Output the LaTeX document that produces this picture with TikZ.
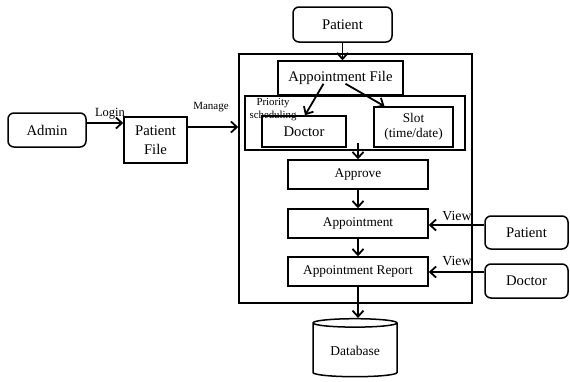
\documentclass[tikz,border=0pt]{standalone}
\usepackage{fontspec}
\setmainfont{Liberation Serif}
\usetikzlibrary{arrows.meta,shapes.geometric}

\begin{document}
\begin{tikzpicture}[x=1pt,y=-1pt,>={Straight Barb[length=6pt,width=11pt]},
    box/.style={draw,line width=1.5pt,inner sep=1pt,align=center,
      font=\fontsize{13.3}{15}\selectfont},
    bigbox/.style={box,font=\fontsize{14.7}{19}\selectfont},
    actor/.style={bigbox,rounded corners=6pt},
    flow/.style={->,line width=1.8pt},
    lbl/.style={inner sep=0pt,font=\fontsize{11}{13}\selectfont}]
  \useasboundingbox (0,0) rectangle (570,381);

  % system frame and inner groups
  \node[box,minimum width=233pt,minimum height=249pt] (sys) at (355.5,178.5) {};
  \node[box,minimum width=220pt,minimum height=54pt] (sched) at (355,123) {};
  \node[bigbox,fill=white,minimum width=125pt,minimum height=34pt] (apfile) at (340.5,78) {Appointment File};
  \node[bigbox,minimum width=84pt,minimum height=31pt] (doc) at (304,131.5) {Doctor};
  \node[box,minimum width=79pt,minimum height=40pt,font=\fontsize{13.3}{15}\selectfont] (slot) at (413.5,127) {Slot\\(time/date)};
  \node[lbl,align=center,font=\fontsize{10.8}{13}\selectfont] (prio) at (273,109.5) {Priority\\scheduling};

  \node[box,minimum width=140pt,minimum height=29pt] (approve) at (358,174.5) {Approve};
  \node[box,minimum width=140pt,minimum height=29pt] (appt) at (358,223.5) {Appointment};
  \node[box,minimum width=140pt,minimum height=29pt] (report) at (358,271.5) {Appointment Report};
  \node[draw,line width=1.5pt,cylinder,shape border rotate=90,aspect=0.15,
    minimum width=84pt,minimum height=58pt,font=\fontsize{13.5}{15}\selectfont] (db) at (355,351) {Database};

  % actors
  \node[actor,minimum width=99pt,minimum height=35pt] (pat) at (342.5,24.5) {Patient};
  \node[actor,minimum width=78pt,minimum height=34pt] (admin) at (47,130) {Admin};
  \node[bigbox,minimum width=63pt,minimum height=46pt] (pfile) at (155.5,140) {Patient\\File};
  \node[actor,minimum width=83pt,minimum height=33pt] (patR) at (526.5,232.5) {Patient};
  \node[actor,minimum width=83pt,minimum height=34pt] (docR) at (526.5,281) {Doctor};

  % flows
  \draw[flow] (pat.south) -- (pat.south |- apfile.north);
  \draw[flow] ([xshift=-17pt,yshift=12pt]apfile.south) -- ([xshift=1pt]doc.north);
  \draw[flow] ([xshift=5pt,yshift=12pt]apfile.south) -- ([xshift=-29pt]slot.north);
  \coordinate (s1) at ([yshift=8pt]sched.south);
  \draw[flow] (s1 -| approve.north) -- (approve.north);
  \draw[flow] (approve.south) -- (appt.north);
  \draw[flow] (appt.south) -- (report.north);
  \draw[flow] (report.south) -- (report.south |- db.north);
  \draw[flow] ([yshift=7pt]admin.east) -- ([yshift=17pt]pfile.west);
  \draw[flow] ([yshift=13pt]pfile.east) -- ([yshift=51.5pt]sys.west);
  \draw[flow] ([yshift=7.5pt]patR.west) -- ([yshift=-1.5pt]appt.east);
  \draw[flow] ([yshift=9pt]docR.west) -- ([yshift=-0.5pt]report.east);

  % labels
  \node[lbl,font=\fontsize{12.5}{14}\selectfont] (login) at (110,114) {Login};
  \node[lbl] (manage) at (211,107) {Manage};
  \node[lbl,font=\fontsize{13.8}{15}\selectfont] (view1) at (457,216) {View};
  \node[lbl,font=\fontsize{13.8}{15}\selectfont] (view2) at (457,261) {View};
\end{tikzpicture}
\end{document}
